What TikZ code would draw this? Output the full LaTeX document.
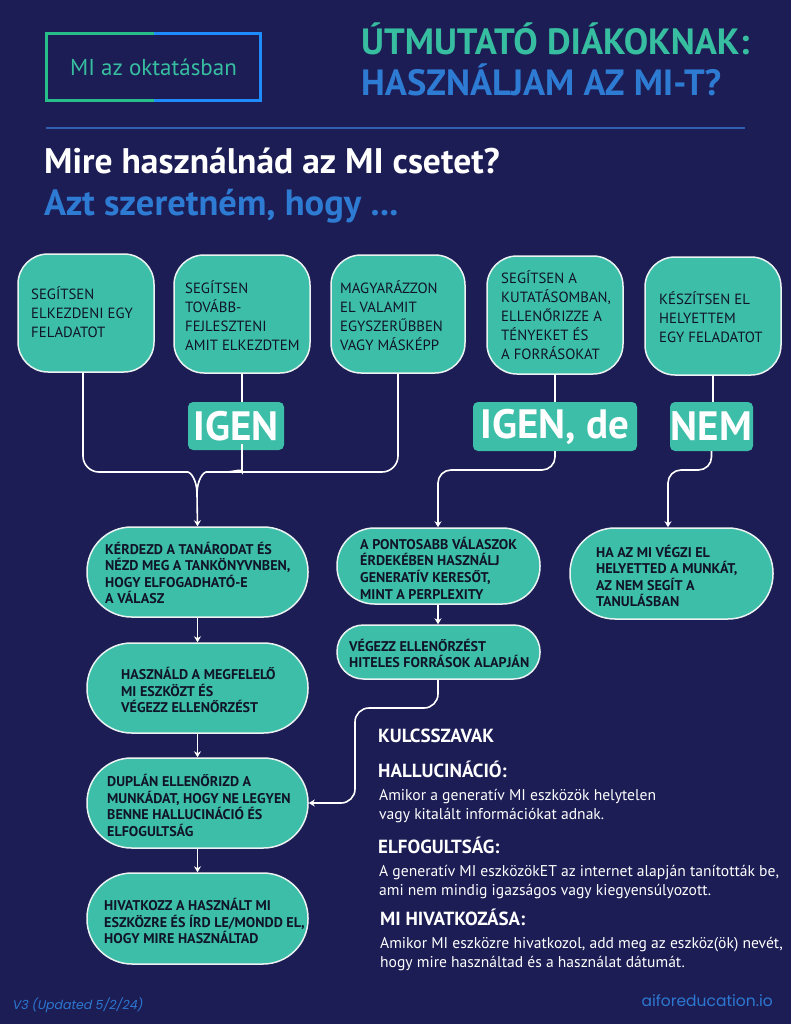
\documentclass[tikz,border=0pt]{standalone}
\usepackage{fontspec}
\setmainfont{PT Sans}
\newfontfamily\popfont{Poppins}
\newfontfamily\popit[FakeSlant=0.2]{Poppins}
\usetikzlibrary{arrows.meta}
\definecolor{bg}{RGB}{28,29,84}
\definecolor{teal}{RGB}{61,190,168}
\definecolor{titleteal}{RGB}{55,190,160}
\definecolor{titleblue}{RGB}{46,123,212}
\definecolor{hdrgreen}{RGB}{40,190,140}
\definecolor{hdrblue}{RGB}{30,140,255}
\definecolor{rulecol}{RGB}{50,95,175}
\definecolor{boxtext}{RGB}{16,20,40}
\definecolor{boxline}{RGB}{235,242,242}
\definecolor{footblue}{RGB}{45,120,210}
\newcommand{\myfs}[2]{\fontsize{#1pt}{#2pt}\selectfont}
\tikzset{
  boxshape/.style={draw=boxline, fill=teal, line width=1.5pt, inner sep=0pt},
  topbox/.style={boxshape, rounded corners=30pt, minimum width=136pt, minimum height=118pt},
  stad/.style={boxshape, rounded corners=#1},
  lab/.style={fill=teal, rounded corners=5pt, inner sep=0pt, text=white, font=\bfseries\myfs{41}{41}},
  toptxt/.style={align=left, inner sep=0pt, text=boxtext, font=\myfs{14.8}{19}, anchor=west},
  bottxt/.style={align=left, inner sep=0pt, text=boxtext, font=\bfseries\myfs{14.1}{16.6}, anchor=west},
  conn/.style={draw=white, line width=1.6pt, rounded corners=14pt},
  arr/.style={conn, -{Stealth[length=6pt,width=7pt]}},
  kwhead/.style={anchor=base west, inner sep=0pt, text=white, font=\bfseries\myfs{19}{19}},
  kwbody/.style={anchor=base west, inner sep=0pt, text=white, align=left, font=\myfs{15.6}{19}},
}
\begin{document}
\begin{tikzpicture}[x=1pt,y=-1pt]
\fill[bg] (0,0) rectangle (791,1024);
\useasboundingbox (0,0) rectangle (791,1024);

% header
\node[minimum width=214pt, minimum height=67pt, inner sep=0pt, text=titleteal, font=\myfs{23}{26}] (hdr) at (153.5,67) {MI az oktatásban};
\draw[line width=3.5pt, hdrgreen] (hdr.north) -- (hdr.north west) -- (hdr.south west) -- (hdr.south);
\draw[line width=3.5pt, hdrblue] (hdr.north) -- (hdr.north east) -- (hdr.south east) -- (hdr.south);
\node[anchor=base west, inner sep=0pt, text=titleteal, font=\bfseries\myfs{36.5}{36}] (ttl1) at (361,55) {ÚTMUTATÓ DIÁKOKNAK:};
\node[anchor=base west, inner sep=0pt, text=titleblue, font=\bfseries\myfs{36.5}{36}] (ttl2) at (361,96) {HASZNÁLJAM AZ MI-T?};
\draw[rulecol, line width=1.2pt] (46,128) -- (745,128);
\node[anchor=base west, inner sep=0pt, text=white, font=\bfseries\myfs{35.5}{36}] (q1) at (44,174) {Mire használnád az MI csetet?};
\node[anchor=base west, inner sep=0pt, text=titleblue, font=\bfseries\myfs{36.5}{36}] (q2) at (44,216) {Azt szeretném, hogy ...};

% top boxes
\node[topbox] (b1) at (86,313) {};
\node[topbox] (b2) at (242,314) {};
\node[topbox, minimum width=134pt] (b3) at (398,314) {};
\node[topbox] (b4) at (555,315) {};
\node[topbox] (b5) at (713,316) {};
\node[toptxt] (t1) at (31,312) {SEGÍTSEN\\ELKEZDENI EGY\\FELADATOT};
\node[toptxt] (t2) at (185,315.5) {SEGÍTSEN\\TOVÁBB-\\FEJLESZTENI\\AMIT ELKEZDTEM};
\node[toptxt] (t3) at (340,315.5) {MAGYARÁZZON\\EL VALAMIT\\EGYSZERŰBBEN\\VAGY MÁSKÉPP};
\node[toptxt] (t4) at (501,315.5) {SEGÍTSEN A\\KUTATÁSOMBAN,\\ELLENŐRIZZE A\\TÉNYEKET ÉS\\A FORRÁSOKAT};
\node[toptxt] (t5) at (659,317) {KÉSZÍTSEN EL\\HELYETTEM\\EGY FELADATOT};

% labels
\node[lab, minimum width=96pt, minimum height=48pt] (igen) at (236,426) {IGEN};
\node[lab, minimum width=164pt, minimum height=49pt] (igende) at (555,426.5) {IGEN, de};
\node[lab, minimum width=83pt, minimum height=49pt] (nem) at (711.5,426.5) {NEM};

% lower boxes
\node[stad=44.5pt, minimum width=221pt, minimum height=90pt] (A) at (197.5,572) {};
\node[stad=44.5pt, minimum width=221pt, minimum height=90pt] (B) at (197.5,688) {};
\node[stad=44.5pt, minimum width=221pt, minimum height=90pt] (C) at (197.5,803) {};
\node[stad=45pt, minimum width=221pt, minimum height=91pt] (D) at (197.5,918.5) {};
\node[stad=37.5pt, minimum width=203pt, minimum height=76pt] (E) at (438.5,566) {};
\node[stad=26.5pt, minimum width=203pt, minimum height=54pt] (F) at (438.5,652) {};
\node[stad=45pt, minimum width=203pt, minimum height=91pt] (G) at (671.5,573.5) {};

\node[bottxt] (tA) at (105,573) {KÉRDEZD A TANÁRODAT ÉS\\NÉZD MEG A TANKÖNYVNBEN,\\HOGY ELFOGADHATÓ-E\\A VÁLASZ};
\node[bottxt] (tB) at (121,690) {HASZNÁLD A MEGFELELŐ\\MI ESZKÖZT ÉS\\VÉGEZZ ELLENŐRZÉST};
\node[bottxt] (tC) at (107,805.5) {DUPLÁN ELLENŐRIZD A\\MUNKÁDAT, HOGY NE LEGYEN\\BENNE HALLUCINÁCIÓ ÉS\\ELFOGULTSÁG};
\node[bottxt] (tD) at (104,921) {HIVATKOZZ A HASZNÁLT MI\\ESZKÖZRE ÉS ÍRD LE/MONDD EL,\\HOGY MIRE HASZNÁLTAD};
\node[bottxt] (tE) at (360,568) {A PONTOSABB VÁLASZOK\\ÉRDEKÉBEN HASZNÁLJ\\GENERATÍV KERESŐT,\\MINT A PERPLEXITY};
\node[bottxt] (tF) at (349,653.5) {VÉGEZZ ELLENŐRZÉST\\HITELES FORRÁSOK ALAPJÁN};
\node[bottxt] (tG) at (596,576) {HA AZ MI VÉGZI EL\\HELYETTED A MUNKÁT,\\AZ NEM SEGÍT A\\TANULÁSBAN};

% connectors: IGEN merge
\coordinate (m) at (197,494);
\draw[conn, rounded corners=16pt] ([xshift=-3pt]b1.south) -- (83,472) -- (172,472) .. controls (190,472) and (197,479) .. (m);
\draw[conn, rounded corners=16pt] (b3.south) -- (398,472) -- (222,472) .. controls (204,472) and (197,479) .. (m);
\draw[conn] (b2.south) -- (b2.south |- igen.north);
\draw[conn] (igen.south -| b2.south) -- (242,458) .. controls (242,468) and (236,472) .. (224,472);
\draw[arr] (m) -- (A.north);
\draw[arr] (A.south) -- (B.north);
\draw[arr] (B.south) -- (C.north);
\draw[arr] (C.south) -- (D.north);

% IGEN, de
\draw[conn] (b4.south) -- (igende.north);
\draw[arr, rounded corners=13pt] (igende.south) -- (555,470) -- (438,470) -- (E.north -| 438,0);
\draw[arr] (E.south -| 438,0) -- (F.north -| 438,0);
\draw[arr, rounded corners=14pt] (F.south -| 438,0) -- (438,708) -- (355,708) -- (355,803) -- (C.east);

% NEM
\draw[conn] (b5.south) -- (nem.north -| b5.south);
\draw[arr, rounded corners=13pt] (nem.south) -- (711.5,470) -- (668,470) -- (G.north -| 668,0);

% keywords
\node[kwhead] (k0) at (378,742) {KULCSSZAVAK};
\node[kwhead] (k1) at (378,777) {HALLUCINÁCIÓ:};
\node[kwbody] (k1t) at (379,819) {Amikor a generatív MI eszközök helytelen\\vagy kitalált információkat adnak.};
\node[kwhead] (k2) at (378,853) {ELFOGULTSÁG:};
\node[kwbody] (k2t) at (379,895) {A generatív MI eszközökET az internet alapján tanították be,\\ami nem mindig igazságos vagy kiegyensúlyozott.};
\node[kwhead] (k3) at (380,925) {MI HIVATKOZÁSA:};
\node[kwbody] (k3t) at (380,967) {Amikor MI eszközre hivatkozol, add meg az eszköz(ök) nevét,\\hogy mire használtad és a használat dátumát.};

% footer
\node[anchor=base west, inner sep=0pt, text=footblue, font=\popit\myfs{12.5}{14}] (ver) at (12,1009) {V3 (Updated 5/2/24)};
\node[anchor=base east, inner sep=0pt, text=footblue, font=\popfont\myfs{15.5}{16}] (url) at (773,1006) {aiforeducation.io};
\end{tikzpicture}
\end{document}
